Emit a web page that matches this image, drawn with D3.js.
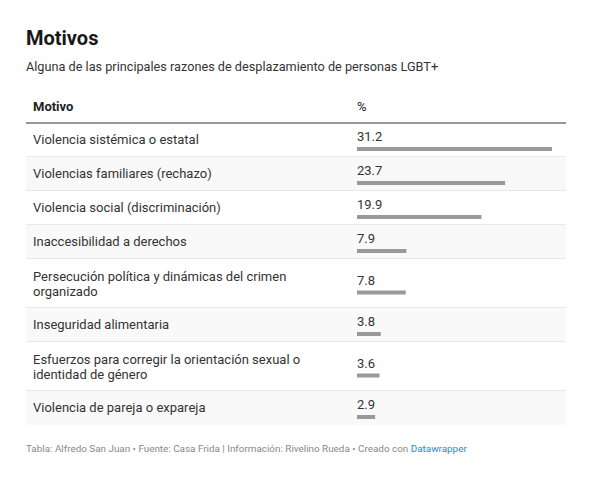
<!DOCTYPE html>
<html lang="es">
<head>
	<meta charset="UTF-8">
	<title>Motivos</title>
	<style>
		html, body {margin: 0; padding: 0; background: #fff;}
		svg {display: block; font-family: Roboto, "Noto Sans", sans-serif;}
	</style>
	<script src="https://d3js.org/d3.v7.min.js"></script>
</head>
<body>
<script>
	var motivos = [
		'Violencia sistémica o estatal',
		'Violencias familiares (rechazo)',
		'Violencia social (discriminación)',
		'Inaccesibilidad a derechos',
		'Persecución política y dinámicas del crimen organizado',
		'Inseguridad alimentaria',
		'Esfuerzos para corregir la orientación sexual o identidad de género',
		'Violencia de pareja o expareja'
	];
	var valores = [31.2, 23.7, 19.9, 7.9, 7.8, 3.8, 3.6, 2.9];
	var columnas = ['Motivo', '%'];

	var width = 593, height = 484;
	var left = 26, right = 566;
	var valX = 357;
	var tableTop = 123;
	var lineH = 15.5, pad = 9;
	var labelMax = 290;

	var svg = d3.select('body').append('svg')
		.attr('width', width)
		.attr('height', height);

	// Title block
	svg.append('text')
		.attr('x', left).attr('y', 45)
		.attr('font-size', 20).attr('font-weight', 700).attr('fill', '#181818')
		.text('Motivos');
	svg.append('text')
		.attr('x', left).attr('y', 71)
		.attr('font-size', 12.7).attr('fill', '#333')
		.text('Alguna de las principales razones de desplazamiento de personas LGBT+');

	// Header
	var header = svg.append('g');
	header.selectAll('text')
		.data(columnas)
		.enter().append('text')
		.attr('x', function (d, i) { return i === 0 ? left + 7 : valX; })
		.attr('y', 111)
		.attr('font-size', 13)
		.attr('font-weight', function (d, i) { return i === 0 ? 700 : 400; })
		.attr('fill', '#222')
		.text(function (d) { return d; });

	// Wrap labels into lines
	var measure = svg.append('text').attr('font-size', 13).attr('visibility', 'hidden');
	function wrap(str) {
		var words = str.split(' '), lines = [], cur = '';
		words.forEach(function (w) {
			var test = cur ? cur + ' ' + w : w;
			measure.text(test);
			if (cur && measure.node().getComputedTextLength() > labelMax) {
				lines.push(cur);
				cur = w;
			} else {
				cur = test;
			}
		});
		lines.push(cur);
		return lines;
	}

	var rows = motivos.map(function (m, i) {
		return {label: m, value: valores[i], lines: wrap(m)};
	});
	measure.remove();

	// Row positions stacked from line counts
	var y0 = tableTop;
	rows.forEach(function (r) {
		r.y = y0;
		r.h = pad * 2 + r.lines.length * lineH + (r.lines.length > 1 ? 0 : 0.5);
		y0 += r.h;
	});

	var x = d3.scaleLinear()
		.domain([0, d3.max(valores)])
		.range([0, 195]);

	var row = svg.selectAll('.row')
		.data(rows)
		.enter().append('g')
		.attr('class', 'row')
		.attr('transform', function (d) { return 'translate(0,' + d.y + ')'; });

	row.append('rect')
		.attr('x', left).attr('width', right - left)
		.attr('height', function (d) { return d.h; })
		.attr('fill', function (d, i) { return i % 2 ? '#f9f9f9' : '#fff'; });

	row.append('line')
		.attr('x1', left).attr('x2', right)
		.attr('y1', function (d) { return d.h - 0.5; })
		.attr('y2', function (d) { return d.h - 0.5; })
		.attr('stroke', function (d, i) { return i === rows.length - 1 ? 'none' : '#e8e8e8'; });

	row.append('text')
		.attr('font-size', 13).attr('fill', '#333')
		.selectAll('tspan')
		.data(function (d) { return d.lines; })
		.enter().append('tspan')
		.attr('x', left + 7)
		.attr('y', function (d, i) { return pad + 11.5 + i * lineH + (this.parentNode.__data__.lines.length > 1 ? 1 : 0); })
		.text(function (d) { return d; });

	row.append('text')
		.attr('x', valX)
		.attr('y', function (d) { return d.h / 2 + 1; })
		.attr('font-size', 13).attr('fill', '#333')
		.text(function (d) { return d3.format('.1f')(d.value); });

	row.append('rect')
		.attr('x', valX)
		.attr('y', function (d) { return d.h / 2 + 7; })
		.attr('width', function (d) { return x(d.value); })
		.attr('height', 4)
		.attr('fill', '#999');

	// Header rule
	svg.append('line')
		.attr('x1', left).attr('x2', right)
		.attr('y1', tableTop).attr('y2', tableTop)
		.attr('stroke', '#333').attr('stroke-width', 1.2);

	// Footer
	var foot = svg.append('text')
		.attr('x', left).attr('y', 452)
		.attr('font-size', 9.9).attr('fill', '#888');
	foot.append('tspan')
		.text('Tabla: Alfredo San Juan • Fuente: Casa Frida | Información: Rivelino Rueda • Creado con ');
	foot.append('tspan')
		.attr('fill', '#1d8ad6')
		.text('Datawrapper');
</script>
</body>
</html>
